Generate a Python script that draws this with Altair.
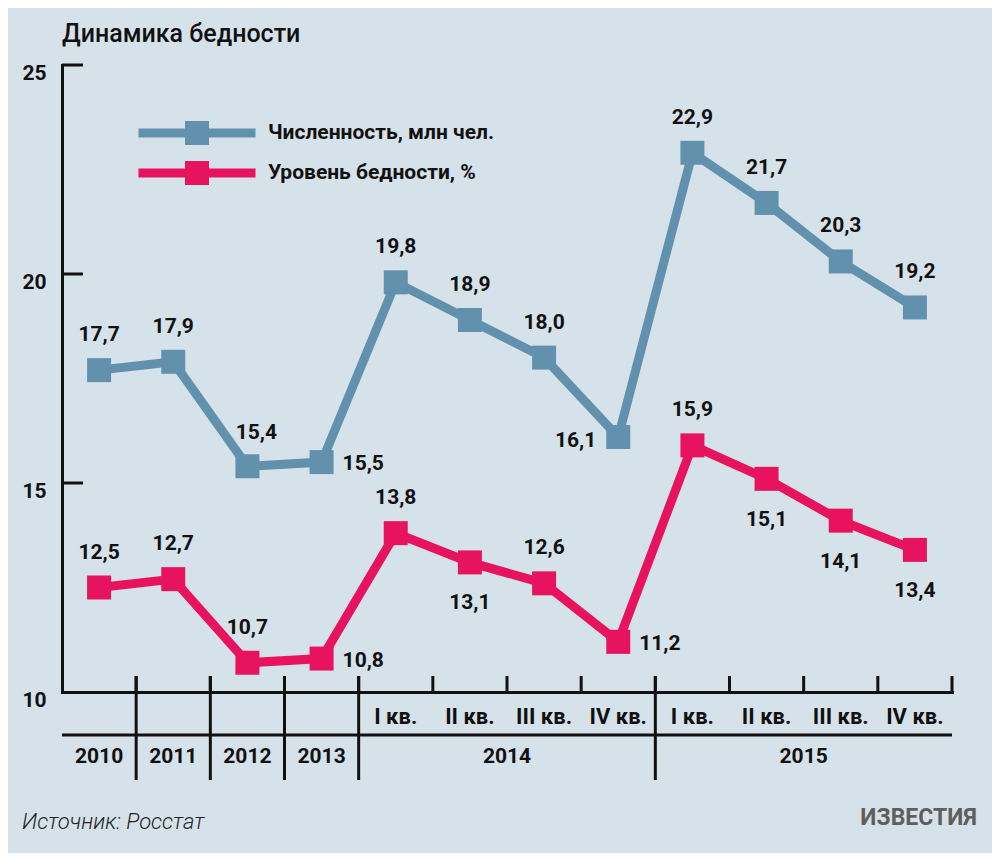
import altair as alt
import pandas as pd

# ---------------- data ----------------
period_idx = [0, 1, 2, 3, 4, 5, 6, 7, 8, 9, 10, 11]
count_mln = [17.7, 17.9, 15.4, 15.5, 19.8, 18.9, 18.0, 16.1, 22.9, 21.7, 20.3, 19.2]
poverty_pct = [12.5, 12.7, 10.7, 10.8, 13.8, 13.1, 12.6, 11.2, 15.9, 15.1, 14.1, 13.4]
count_label_pos = ["above", "above", "aboveright", "right", "above", "above",
                   "above", "left", "above", "above", "above", "above"]
pct_label_pos = ["above", "above", "above", "right", "above", "below",
                 "above", "right", "above", "below", "below", "below"]
series_names = ["Численность, млн чел.", "Уровень бедности, %"]

quarter_idx = [4, 5, 6, 7, 8, 9, 10, 11]
quarter_labels = ["I кв.", "II кв.", "III кв.", "IV кв.",
                  "I кв.", "II кв.", "III кв.", "IV кв."]
year_idx = [0, 1, 2, 3, 5.5, 9.5]
year_labels = ["2010", "2011", "2012", "2013", "2014", "2015"]
cell_bounds = [0.5, 1.5, 2.5, 3.5, 4.5, 5.5, 6.5, 7.5, 8.5, 9.5, 10.5, 11.5]
year_bounds = [0.5, 1.5, 2.5, 3.5, 7.5]
y_ticks = [10, 15, 20, 25]
y_inner_ticks = [15, 20, 25]

# ---------------- styles ----------------
BG = "#d6e2ea"
BLUE = "#6291ad"
PINK = "#e8135f"
INK = "#111111"
FONT = "Roboto, 'Liberation Sans', sans-serif"

def fmt(v):
    return f"{v:.1f}".replace(".", ",")

rows = []
for i, v, p in zip(period_idx, count_mln, count_label_pos):
    rows.append({"i": i, "value": v, "series": series_names[0], "label": fmt(v), "pos": p})
for i, v, p in zip(period_idx, poverty_pct, pct_label_pos):
    rows.append({"i": i, "value": v, "series": series_names[1], "label": fmt(v), "pos": p})
df = pd.DataFrame(rows)

xs = alt.Scale(domain=[-0.5, 11.5], nice=False, zero=False)
ys = alt.Scale(domain=[10, 25], nice=False, zero=False)
cs = alt.Scale(domain=series_names, range=[BLUE, PINK])

x_axis = alt.Axis(domain=True, domainWidth=3, domainColor=INK, domainCap="square",
                  ticks=False, labels=False, grid=False, title=None)
y_axis = alt.Axis(values=y_ticks, domain=True, domainWidth=3, domainColor=INK,
                  domainCap="square", ticks=False, tickSize=0, grid=False, title=None,
                  labelFont=FONT, labelFontSize=21, labelFontWeight="bold",
                  labelColor=INK, labelPadding=16, labelBaseline="middle", labelOffset=8)

X = alt.X("i:Q", scale=xs, axis=x_axis)
Y = alt.Y("value:Q", scale=ys, axis=y_axis)

legend_path = ("M-4.875,-0.375 L4.875,-0.375 L4.875,0.375 L-4.875,0.375 Z "
               "M-1,-1 L1,-1 L1,1 L-1,1 Z")

def series_line(name, colour):
    return alt.Chart(df).transform_filter(alt.datum.series == name).mark_line(
        strokeWidth=9, color=colour
    ).encode(x=X, y=Y)

line_count = series_line(series_names[0], BLUE)
line_pct = series_line(series_names[1], PINK)

points = alt.Chart(df).mark_point(shape="square", filled=True, size=576, opacity=1).encode(
    x=X, y=Y,
    color=alt.Color("series:N", scale=cs, legend=alt.Legend(
        orient="none", legendX=123, legendY=56, title=None, padding=0,
        symbolType=legend_path, symbolSize=576, symbolStrokeWidth=0, symbolOpacity=1,
        labelOffset=59, rowPadding=16, labelFont=FONT, labelFontSize=21,
        labelFontWeight="bold", labelColor=INK, labelLimit=400,
    ))
)

def labels(pos, **kw):
    return alt.Chart(df).transform_filter(alt.datum.pos == pos).mark_text(
        font=FONT, fontSize=21, fontWeight="bold", color=INK, baseline="middle", **kw
    ).encode(x=X, y=Y, text="label:N")

lab_above = labels("above", dy=-35)
lab_above_right = labels("aboveright", dx=9, dy=-33)
lab_below = labels("below", dy=41)
lab_right = labels("right", dx=21, dy=2, align="left")
lab_left = labels("left", dx=-22, dy=4, align="right")

# y inner ticks
ytick_df = pd.DataFrame({"value": y_inner_ticks})
y_tick_rules = alt.Chart(ytick_df).mark_rule(color=INK, strokeWidth=3).encode(
    y=alt.Y("value:Q", scale=ys, axis=y_axis), x=alt.value(0), x2=alt.value(21)
)

# x structure
cell_df = pd.DataFrame({"b": cell_bounds})
cell_ticks = alt.Chart(cell_df).mark_rule(color=INK, strokeWidth=3).encode(
    x=alt.X("b:Q", scale=xs, axis=x_axis), y=alt.value(611), y2=alt.value(627)
)
year_df = pd.DataFrame({"b": year_bounds})
year_ticks = alt.Chart(year_df).mark_rule(color=INK, strokeWidth=3).encode(
    x=alt.X("b:Q", scale=xs, axis=x_axis), y=alt.value(611), y2=alt.value(715)
)
sep_df = pd.DataFrame({"a": [-0.5], "b": [11.5]})
sep_line = alt.Chart(sep_df).mark_rule(color=INK, strokeWidth=3).encode(
    x=alt.X("a:Q", scale=xs, axis=x_axis), x2="b:Q", y=alt.value(670)
)

q_df = pd.DataFrame({"i": quarter_idx, "t": quarter_labels})
q_text = alt.Chart(q_df).mark_text(
    font=FONT, fontSize=22, fontWeight="bold", color=INK, baseline="middle"
).encode(x=alt.X("i:Q", scale=xs, axis=x_axis), y=alt.value(652), text="t:N")

yr_df = pd.DataFrame({"i": year_idx, "t": year_labels})
yr_text = alt.Chart(yr_df).mark_text(
    font=FONT, fontSize=21, fontWeight="bold", color=INK, baseline="middle"
).encode(x=alt.X("i:Q", scale=xs, axis=x_axis), y=alt.value(692), text="t:N")

# footer annotations
src_df = pd.DataFrame({"t": ["Источник: Росстат"]})
src_text = alt.Chart(src_df).mark_text(
    font=FONT, fontSize=22, fontStyle="italic", fontWeight=300, color="#222222",
    align="left", baseline="middle"
).encode(x=alt.value(-40), y=alt.value(757), text="t:N")

logo_df = pd.DataFrame({"t": ["ИЗВЕСТИЯ"]})
logo_text = alt.Chart(logo_df).mark_text(
    font=FONT, fontSize=23, fontWeight="bold", color="#5e5e5e", align="right",
    baseline="middle"
).encode(x=alt.value(915), y=alt.value(753), text="t:N")

chart = alt.layer(
    cell_ticks, year_ticks, sep_line, y_tick_rules, q_text, yr_text,
    line_count, line_pct, points, lab_above, lab_above_right, lab_below,
    lab_right, lab_left, src_text, logo_text,
).properties(
    width=890, height=627,
    title=alt.Title("Динамика бедности", anchor="start", frame="group",
                    fontSize=25, font=FONT, fontWeight=500, color=INK, offset=15),
    autosize=alt.AutoSizeParams(type="none"),
    padding={"left": 54, "top": 57, "right": 40, "bottom": 161},
    background=BG,
).configure_view(stroke=None)

chart.save("out.html", embed_options={"renderer": "svg", "actions": False})
